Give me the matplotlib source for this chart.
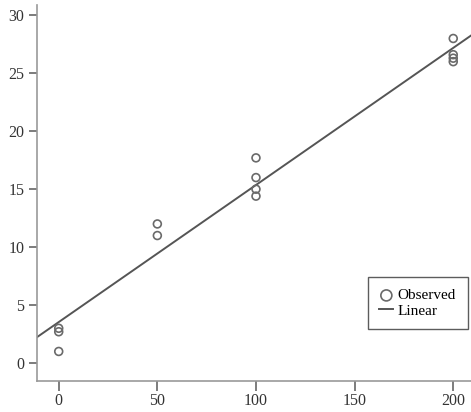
import numpy as np
import matplotlib
matplotlib.use("Agg")
import matplotlib.pyplot as plt

dose = [0, 0, 0, 50, 50, 100, 100, 100, 100, 200, 200, 200, 200]
response = [1.0, 2.7, 3.0, 12.0, 11.0, 17.7, 16.0, 15.0, 14.4, 28.0, 26.6, 26.3, 26.0]
xticks = [0, 50, 100, 150, 200]
yticks = [0, 5, 10, 15, 20, 25, 30]

plt.rcParams['font.family'] = ['Liberation Serif', 'DejaVu Serif']

fig = plt.figure(figsize=(4.71, 4.12), dpi=100)
ax = fig.add_axes([0.0786, 0.0752, 0.9214, 0.913])

xlim = (-11, 209)
ylim = (-1.55, 30.9)

slope, intercept = np.polyfit(dose, response, 1)
xl = np.array(xlim)
ax.plot(xl, intercept + slope * xl, color='#555555', lw=1.4, label='Linear', zorder=2)
ax.scatter(dose, response, s=32, facecolors='none', edgecolors='#6a6a6a', linewidths=1.2,
           label='Observed', zorder=3)

ax.set_xlim(*xlim)
ax.set_ylim(*ylim)
ax.set_xticks(xticks)
ax.set_yticks(yticks)
for s in ['top', 'right']:
    ax.spines[s].set_visible(False)
for s in ['left', 'bottom']:
    ax.spines[s].set_color('#999999')
    ax.spines[s].set_linewidth(1.2)
ax.tick_params(colors='#333333', labelsize=11.5, length=6, width=1.2, direction='out', pad=3)
ax.tick_params(axis='both', color='#666666')
ax.tick_params(axis='x', length=7, pad=1.5)

h, l = ax.get_legend_handles_labels()
leg = ax.legend(h[::-1], l[::-1], loc='lower right', bbox_to_anchor=(0.992, 0.138),
                frameon=True, fancybox=False, fontsize=11, handlelength=0.9,
                handletextpad=0.3, borderpad=0.75, labelspacing=0.1, markerscale=1.4,
                borderaxespad=0.0)
leg.get_frame().set_edgecolor('#333333')
leg.get_frame().set_linewidth(1.0)

fig.savefig('out.png', dpi=100)
